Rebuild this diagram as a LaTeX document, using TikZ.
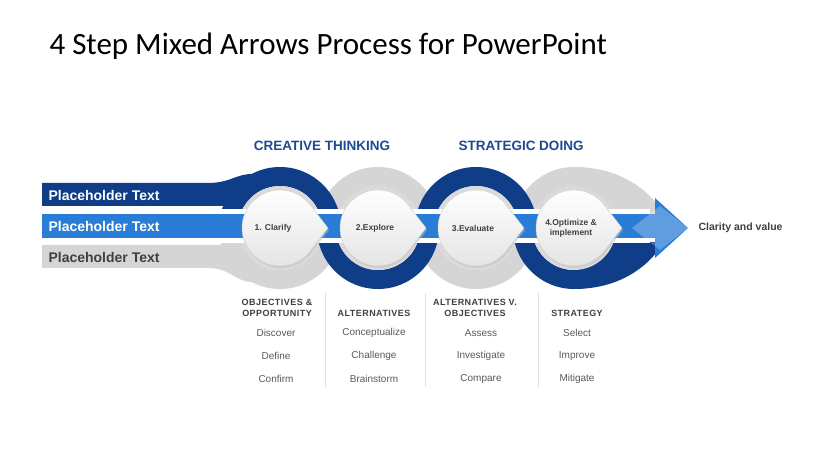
\documentclass[tikz,border=0pt]{standalone}
\usepackage{fontspec}
\setmainfont{Liberation Sans}
\newfontfamily\titlefont{Carlito}
\newfontfamily\spacedfont[LetterSpace=5]{Liberation Sans}
\usepackage{xcolor}
\definecolor{navy}{HTML}{0F3D87}
\definecolor{bandblue}{HTML}{2A7DD6}
\definecolor{ringgray}{HTML}{D5D5D5}
\definecolor{headblue}{HTML}{1C4A92}
\definecolor{textgray}{HTML}{404040}
\definecolor{itemgray}{HTML}{5A5A5A}
\usetikzlibrary{calc}

\begin{document}
\begin{tikzpicture}[x=1pt, y=-1pt,
  bandtext/.style={font=\fontsize{14}{16}\selectfont\bfseries, anchor=west},
  droplabel/.style={font=\fontsize{8.5}{10}\selectfont\bfseries, text=textgray, align=center},
  colhead/.style={font=\spacedfont\fontsize{9}{10.5}\selectfont\bfseries, text=textgray, align=center},
  colitem/.style={font=\fontsize{10}{12}\selectfont, text=itemgray},
  phase/.style={font=\fontsize{13.5}{16}\selectfont\bfseries, text=headblue}]

  \useasboundingbox (0,0) rectangle (835,470);
  \fill[white] (0,0) rectangle (835,470);

  % Titel
  \node[anchor=west, font=\titlefont\fontsize{31}{34}\selectfont] (title) at (46,46)
    {4 Step Mixed Arrows Process for PowerPoint};

  % linke Baender
  \fill[navy] (42,183) -- (208,183) .. controls (230,183) and (236,174) .. (252,174)
    -- (252,206) -- (42,206) -- cycle;
  \fill[ringgray] (42,245) -- (252,245) -- (252,282) .. controls (236,282) and (230,268) .. (208,268)
    -- (42,268) -- cycle;

  % Ringe, grau zuerst
  \foreach \cx/\a/\b in {280/0/180, 378/180/360, 476/0/180, 574/180/360}
    \fill[ringgray] ([shift={(\cx,228)}]\a:61) arc[start angle=\a, end angle=\b, radius=61]
      -- ([shift={(\cx,228)}]\b:42) arc[start angle=\b, end angle=\a, radius=42] -- cycle;
  \fill[ringgray] (574,167) .. controls (618,167) and (648,188) .. (664,214) -- (574,214) -- cycle;

  % Ringe, blau darueber
  \foreach \cx/\a/\b in {280/180/360, 378/0/180, 476/180/360, 574/0/180}
    \fill[navy] ([shift={(\cx,228)}]\a:61) arc[start angle=\a, end angle=\b, radius=61]
      -- ([shift={(\cx,228)}]\b:42) arc[start angle=\b, end angle=\a, radius=42] -- cycle;
  \fill[navy] (574,289) .. controls (618,289) and (648,268) .. (664,242) -- (574,242) -- cycle;

  % Innenflaechen
  \foreach \cx in {280,378,476,574}
    \shade[inner color=white, outer color=gray!30] (\cx,228) circle[radius=42];

  % Mittelband mit Pfeil
  \fill[white] (215,209) rectangle (650,243);
  \fill[bandblue] (42,214) rectangle (655,238);
  \fill[bandblue] (655,198) -- (688,228) -- (655,258) -- cycle;
  \fill[white, opacity=.25] (632,228) -- (660,206) -- (688,228) -- (660,250) -- cycle;

  % Tropfen
  \foreach \cx in {280,378,476,574} {
    \fill[gray!50, opacity=.5] (\cx+49,230) -- ([shift={(\cx+1,230)}]38:38)
      arc[start angle=38, end angle=322, radius=38] -- cycle;
    \shade[top color=white, bottom color=gray!22, draw=gray!40, line width=.4pt]
      (\cx+48,228) -- ([shift={(\cx,228)}]38:38) arc[start angle=38, end angle=322, radius=38] -- cycle;
  }
  \node[droplabel] (s1) at (273,228) {1. Clarify};
  \node[droplabel] (s2) at (375,228) {2.Explore};
  \node[droplabel] (s3) at (473,228) {3.Evaluate};
  \node[droplabel] (s4) at (571,228) {4.Optimize \&\\implement};

  % Beschriftungen
  \node[bandtext, text=white] (ph1) at (45,195) {Placeholder Text};
  \node[bandtext, text=white] (ph2) at (45,226) {Placeholder Text};
  \node[bandtext, text=textgray] (ph3) at (45,257) {Placeholder Text};
  \node[anchor=west, font=\fontsize{10.5}{12}\selectfont\bfseries, text=textgray] (result) at (695,228)
    {Clarity and value};
  \node[phase] (creative) at (322,146) {CREATIVE THINKING};
  \node[phase] (strategic) at (521,146) {STRATEGIC DOING};

  % Spalten
  \foreach \x in {325,425,538}
    \draw[gray!25, line width=.6pt] (\x,293) -- (\x,387);
  \node[colhead] (h1) at (277,308) {OBJECTIVES \&\\OPPORTUNITY};
  \node[colhead] (h2) at (374,313) {ALTERNATIVES};
  \node[colhead] (h3) at (475,308) {ALTERNATIVES V.\\OBJECTIVES};
  \node[colhead] (h4) at (577,313) {STRATEGY};
  \foreach \x/\p/\q/\r [count=\i] in {276/Discover/Define/Confirm, 374/Conceptualize/Challenge/Brainstorm,
      481/Assess/Investigate/Compare, 577/Select/Improve/Mitigate} {
    \node[colitem] (c\i-1) at (\x,333) {\p};
    \node[colitem] (c\i-2) at (\x,356) {\q};
    \node[colitem] (c\i-3) at (\x,379) {\r};
  }

\end{tikzpicture}
\end{document}
